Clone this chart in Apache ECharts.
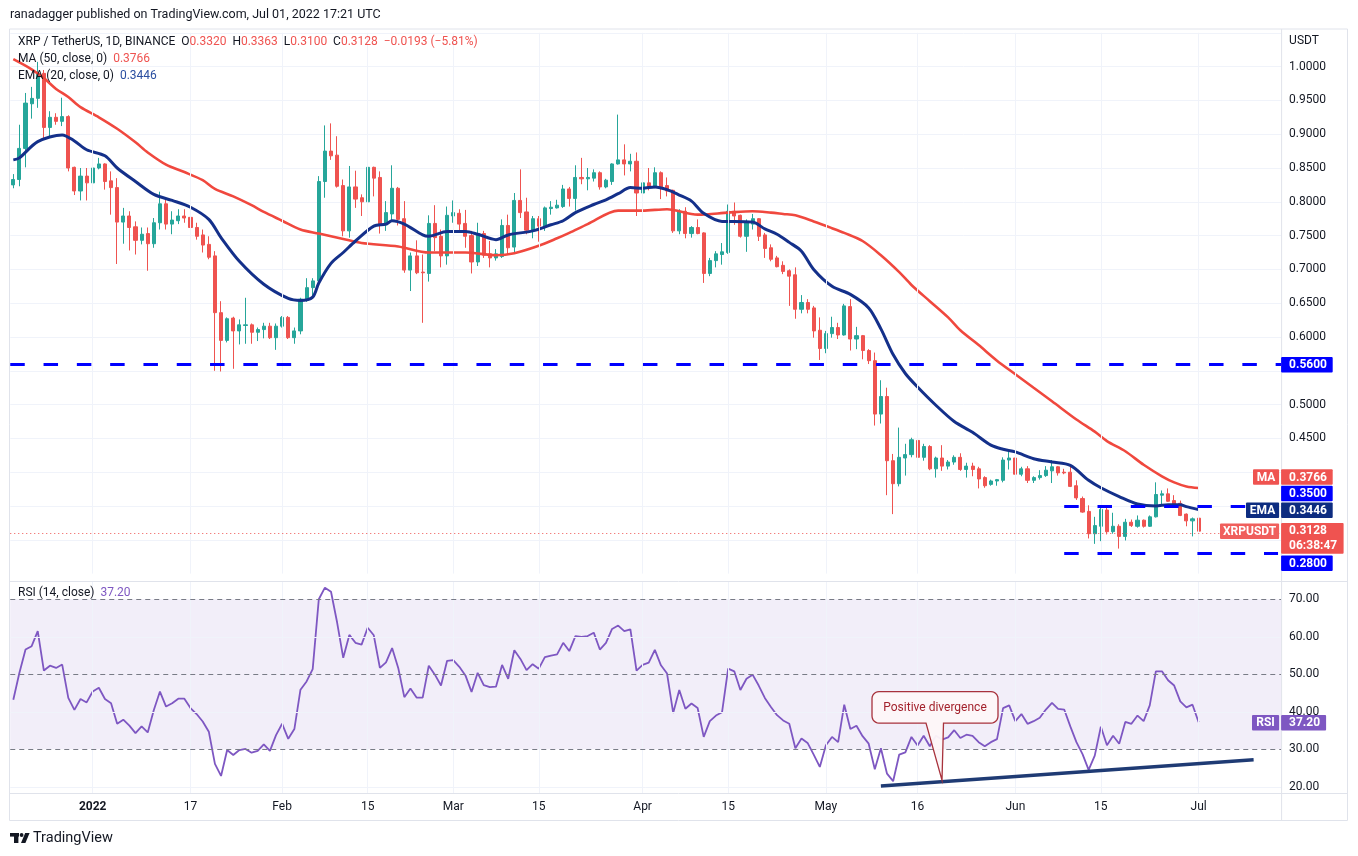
<!DOCTYPE html>
<html><head><meta charset="utf-8">
<script src="https://cdn.jsdelivr.net/npm/echarts@6/dist/echarts.min.js"></script>
<style>html,body{margin:0;padding:0;background:#fff;}#c{width:1358px;height:856px;}</style>
</head><body><div id="c"></div>
<script>
// ---------- data ----------
const startDateUTC = [2021, 11, 19];   // first candle: 2021-12-19
const totalDays = 208;                 // categories incl. empty space on the right
const opens  = [.825,.833,.879,.945,.953,.990,.910,.925,.919,.926,.851,.816,.838,.828,.850,.856,.831,.821,.770,.779,.763,.743,.753,.738,.769,.797,.767,.772,.779,.777,.762,.751,.737,.720,.636,.595,.628,.609,.617,.618,.607,.611,.616,.599,.616,.629,.599,.609,.656,.673,.683,.830,.875,.869,.824,.757,.822,.806,.800,.851,.836,.766,.782,.820,.775,.699,.720,.696,.694,.768,.749,.720,.779,.783,.768,.750,.711,.753,.723,.717,.719,.765,.733,.802,.785,.758,.775,.764,.790,.791,.793,.819,.805,.836,.834,.835,.843,.822,.830,.856,.862,.856,.860,.813,.828,.822,.843,.824,.817,.757,.786,.753,.762,.754,.694,.713,.722,.725,.786,.780,.749,.767,.775,.751,.732,.717,.706,.698,.692,.641,.651,.643,.610,.583,.605,.614,.603,.645,.597,.602,.580,.565,.486,.512,.417,.383,.421,.426,.447,.422,.438,.405,.421,.409,.415,.422,.404,.409,.405,.392,.382,.387,.388,.418,.421,.397,.405,.388,.392,.395,.402,.408,.400,.400,.380,.361,.342,.309,.320,.344,.312,.320,.305,.326,.320,.329,.320,.334,.366,.368,.358,.354,.338,.328,.3320];
const closes = [.833,.879,.946,.953,.990,.910,.925,.919,.926,.850,.816,.838,.828,.850,.856,.830,.821,.770,.779,.762,.743,.752,.738,.769,.797,.767,.773,.779,.776,.762,.749,.736,.718,.636,.595,.627,.609,.618,.618,.607,.611,.616,.599,.616,.629,.599,.609,.656,.673,.683,.830,.875,.868,.823,.757,.822,.804,.800,.851,.835,.766,.784,.820,.774,.699,.720,.695,.695,.768,.747,.720,.780,.784,.767,.749,.711,.753,.721,.717,.723,.765,.732,.802,.784,.758,.775,.764,.791,.792,.795,.819,.805,.836,.834,.836,.843,.822,.832,.856,.862,.856,.860,.813,.828,.822,.843,.822,.816,.757,.786,.753,.762,.753,.694,.713,.723,.726,.786,.779,.749,.770,.775,.749,.731,.715,.704,.697,.690,.641,.651,.641,.609,.583,.605,.614,.603,.646,.597,.602,.580,.565,.486,.512,.417,.383,.422,.426,.448,.422,.438,.405,.421,.409,.415,.422,.404,.409,.404,.390,.380,.387,.389,.418,.421,.397,.405,.388,.392,.395,.403,.408,.399,.399,.379,.362,.341,.309,.321,.345,.312,.320,.305,.326,.321,.329,.320,.334,.367,.368,.357,.352,.336,.328,.331,.3128];
const lows   = [.820,.823,.851,.923,.939,.894,.897,.914,.912,.845,.810,.802,.802,.826,.848,.818,.781,.708,.738,.728,.722,.737,.698,.732,.759,.759,.752,.767,.769,.752,.744,.725,.715,.550,.549,.592,.553,.589,.590,.590,.594,.598,.597,.581,.614,.597,.590,.604,.652,.659,.679,.806,.862,.821,.749,.747,.791,.779,.796,.808,.753,.757,.771,.765,.695,.668,.693,.621,.682,.727,.703,.707,.769,.757,.732,.694,.705,.717,.703,.713,.717,.722,.725,.776,.752,.746,.741,.757,.781,.790,.791,.793,.787,.826,.817,.830,.818,.820,.825,.855,.839,.845,.779,.806,.817,.820,.804,.808,.754,.752,.746,.747,.752,.680,.690,.703,.707,.723,.766,.747,.726,.759,.742,.717,.712,.703,.693,.646,.627,.635,.635,.599,.566,.576,.599,.597,.602,.580,.582,.567,.560,.469,.472,.366,.338,.379,.395,.422,.409,.417,.403,.392,.402,.404,.411,.402,.392,.394,.376,.377,.380,.380,.385,.404,.388,.394,.384,.384,.389,.393,.384,.395,.397,.378,.359,.340,.302,.294,.298,.308,.309,.287,.299,.319,.318,.318,.319,.333,.351,.356,.348,.335,.320,.305,.3100];
const highs  = [.841,.914,.961,.970,1.007,.995,.934,.931,.954,.928,.852,.850,.850,.855,.865,.857,.845,.835,.791,.786,.771,.762,.762,.776,.815,.803,.786,.789,.789,.781,.769,.759,.749,.727,.653,.629,.630,.626,.658,.620,.614,.621,.621,.620,.631,.631,.614,.658,.687,.687,.838,.913,.916,.897,.833,.853,.846,.811,.858,.852,.845,.801,.854,.822,.801,.725,.743,.722,.780,.795,.759,.793,.802,.789,.788,.757,.769,.757,.742,.730,.774,.781,.813,.848,.806,.779,.779,.793,.801,.803,.825,.822,.854,.865,.850,.848,.845,.834,.857,.929,.885,.871,.873,.833,.850,.851,.845,.836,.818,.789,.792,.764,.774,.755,.717,.727,.739,.796,.799,.781,.774,.782,.776,.754,.737,.720,.712,.700,.703,.662,.656,.646,.629,.609,.630,.621,.649,.656,.615,.603,.582,.577,.536,.525,.427,.466,.442,.451,.448,.442,.440,.423,.440,.418,.425,.428,.414,.414,.408,.394,.389,.390,.422,.433,.427,.408,.409,.394,.403,.409,.418,.409,.405,.412,.388,.364,.351,.334,.348,.348,.340,.323,.331,.330,.336,.330,.336,.385,.373,.376,.366,.358,.339,.333,.3363];
const rsi14  = [43.2,50.4,56.6,57.5,61.5,51.0,52.3,51.7,52.6,43.7,40.5,43.4,42.5,45.4,46.4,43.4,42.3,36.8,37.9,36.3,34.3,36.1,34.5,40.5,45.4,41.4,42.3,43.5,43.5,41.0,39.4,37.4,34.7,26.1,22.9,29.8,28.5,29.8,30.1,29.1,29.6,31.3,29.6,33.8,36.8,32.8,35.4,45.9,48.1,51.4,70.0,73.1,72.0,63.8,54.4,60.5,58.4,57.9,62.4,60.4,51.7,53.2,57.0,51.7,43.9,46.2,43.8,43.8,52.3,49.9,47.0,53.6,53.8,52.0,49.7,45.3,50.4,47.1,46.6,46.7,52.5,48.8,56.4,54.1,51.1,52.7,51.5,54.6,55.0,55.3,58.4,56.2,60.2,60.0,60.2,61.1,56.6,58.4,62.1,63.0,61.5,62.0,51.0,52.5,53.1,56.5,52.4,50.2,39.7,45.8,40.8,42.2,41.0,33.3,37.5,39.0,39.9,51.5,50.8,45.8,48.8,49.9,47.0,43.7,41.3,39.1,37.7,36.8,30.3,32.9,31.7,28.6,25.3,31.1,33.3,31.9,41.9,35.4,36.3,33.5,31.5,24.7,30.3,23.5,21.5,28.6,29.2,33.3,31.0,33.6,30.8,33.6,32.6,33.2,35.1,33.0,33.9,33.6,31.9,30.8,31.9,32.7,41.0,41.7,37.5,39.4,36.8,37.5,38.4,40.6,42.4,40.8,40.6,36.1,31.9,28.7,24.5,28.3,36.0,31.1,33.6,31.5,37.3,36.8,39.0,37.5,41.7,50.8,50.8,48.4,47.0,42.8,41.2,41.9,37.2];
const ma50   = [[0,1.011],[3,0.996],[5,0.983],[7,0.967],[9,0.955],[11,0.940],[14,0.925],[17,0.908],[20,0.888],[22,0.873],[25,0.855],[28,0.844],[31,0.832],[33,0.819],[36,0.808],[39,0.795],[41,0.785],[44,0.772],[47,0.759],[50,0.753],[54,0.745],[57,0.739],[63,0.734],[68,0.725],[74,0.725],[79,0.721],[82,0.724],[86,0.735],[89,0.746],[91,0.754],[94,0.767],[99,0.787],[103,0.787],[107,0.789],[112,0.781],[117,0.784],[121,0.786],[124,0.784],[126,0.782],[128,0.780],[131,0.771],[134,0.761],[136,0.754],[139,0.742],[142,0.721],[145,0.696],[147,0.677],[150,0.653],[153,0.629],[155,0.610],[158,0.588],[161,0.565],[164,0.545],[167,0.525],[170,0.505],[174,0.478],[177,0.460],[179,0.446],[182,0.431],[185,0.411],[188,0.394],[190,0.385],[192,0.379],[194,0.3766]];
const ema20  = [[0,0.862],[1,0.865],[4,0.889],[8,0.899],[10,0.890],[12,0.877],[15,0.868],[17,0.850],[20,0.830],[23,0.811],[26,0.802],[29,0.792],[32,0.774],[34,0.747],[37,0.712],[41,0.678],[45,0.657],[47,0.654],[49,0.659],[50,0.680],[52,0.709],[54,0.725],[56,0.742],[59,0.764],[61,0.767],[62,0.772],[64,0.767],[67,0.751],[68,0.749],[71,0.756],[74,0.756],[76,0.752],[79,0.744],[81,0.751],[85,0.757],[88,0.766],[90,0.772],[92,0.784],[95,0.796],[97,0.803],[99,0.812],[101,0.821],[103,0.820],[105,0.822],[107,0.818],[109,0.810],[111,0.801],[113,0.783],[116,0.771],[118,0.771],[121,0.770],[123,0.760],[125,0.752],[127,0.740],[129,0.727],[131,0.700],[134,0.675],[137,0.663],[140,0.643],[142,0.612],[144,0.574],[146,0.546],[148,0.526],[151,0.499],[154,0.475],[157,0.459],[160,0.440],[162,0.434],[164,0.430],[167,0.420],[170,0.415],[173,0.410],[176,0.388],[178,0.377],[181,0.364],[184,0.353],[187,0.350],[189,0.352],[191,0.352],[192,0.349],[194,0.3446]];
const tickDates  = ['2022-01-01','2022-01-17','2022-02-01','2022-02-15','2022-03-01','2022-03-15','2022-04-01','2022-04-15','2022-05-01','2022-05-16','2022-06-01','2022-06-15','2022-07-01'];
const tickLabels = ['2022','17','Feb','15','Mar','15','Apr','15','May','16','Jun','15','Jul'];
const hiddenPriceLabels = [0.25, 0.30, 0.35, 0.40, 0.55, 1.05];
const rsiTicks   = [20, 30, 40, 50, 60, 70];
const rsiSolid   = [20, 40, 60];
const rsiDashed  = [30, 50, 70];
const levelFull  = 0.56;
const levelsPartial = [0.35, 0.28];
const levelStartIdx = 172;
const lastPrice  = 0.3128;
const lastMA = 0.3766, lastEMA = 0.3446, lastRSI = 37.20;
const trendLine  = [[142, 20.2], [203, 27.2]];
const calloutTip = [152, 21.8];
const calloutText = 'Positive divergence';

// ---------- build ----------
const dates = [];
const t0 = Date.UTC(startDateUTC[0], startDateUTC[1], startDateUTC[2]);
for (let i = 0; i < totalDays; i++) dates.push(new Date(t0 + i * 86400000).toISOString().slice(0, 10));
const candles = opens.map((o, i) => [o, closes[i], lows[i], highs[i]]);

const FONT = 'Roboto, "Noto Sans", Arial, sans-serif';
const UP = '#26a69a', DOWN = '#ef5350', MA_C = '#f0483e', EMA_C = '#14308a', RSI_C = '#7e57c2', LVL = '#0000ff';
const TXT = '#131722', GRIDC = '#f0f3fa';
const GRID_L = 10.25, GRID_R = 76.9;
const W = 1358;

const chart = echarts.init(document.getElementById('c'), null, {renderer: 'canvas', width: 1358, height: 856});

const splitColors = [];
for (let i = 0; i <= 16; i++) splitColors.push(i === 0 ? 'rgba(0,0,0,0)' : GRIDC);

const tStyle = (extra) => Object.assign({fontFamily: FONT, fontSize: 12, fontWeight: 'normal', color: TXT, lineHeight: 14}, extra || {});

const option = {
  animation: false,
  backgroundColor: '#ffffff',
  textStyle: {fontFamily: FONT},
  title: [
    {text: 'ranadagger published on TradingView.com, Jul 01, 2022 17:21 UTC', left: 10, top: 8, padding: 0, textStyle: tStyle({fontSize: 12.5})},
    {text: 'XRP / TetherUS, 1D, BINANCE  O{r|0.3320}  H{r|0.3363}  L{r|0.3100}  C{r|0.3128}  {r|\u22120.0193 (\u22125.81%)}', left: 18, top: 35, padding: 0,
      textStyle: tStyle({rich: {r: {color: DOWN, fontFamily: FONT, fontSize: 12, lineHeight: 14}}})},
    {text: 'MA (50, close, 0)  {r|' + lastMA.toFixed(4) + '}', left: 18, top: 52, padding: 0,
      textStyle: tStyle({rich: {r: {color: DOWN, fontFamily: FONT, fontSize: 12, lineHeight: 14}}})},
    {text: 'EMA (20, close, 0)  {b|' + lastEMA.toFixed(4) + '}', left: 18, top: 69, padding: 0,
      textStyle: tStyle({rich: {b: {color: '#2a4ea0', fontFamily: FONT, fontSize: 12, lineHeight: 14}}})},
    {text: 'RSI (14, close)  {p|' + lastRSI.toFixed(2) + '}', left: 18, top: 586, padding: 0,
      textStyle: tStyle({rich: {p: {color: RSI_C, fontFamily: FONT, fontSize: 12, lineHeight: 14}}})}
  ],
  grid: [
    {left: GRID_L, right: GRID_R, top: 32.8, height: 540.8},
    {left: GRID_L, right: GRID_R, top: 582, height: 211}
  ],
  xAxis: [
    {type: 'category', gridIndex: 0, data: dates, boundaryGap: true, axisLine: {show: false}, axisTick: {show: false}, axisLabel: {show: false}, splitLine: {show: false}},
    {type: 'category', gridIndex: 1, data: dates, boundaryGap: true, axisLine: {show: false}, axisTick: {show: false}, splitLine: {show: false},
      axisLabel: {
        interval: (i, v) => tickDates.indexOf(v) >= 0,
        formatter: (v) => { const k = tickDates.indexOf(v); if (k < 0) return ''; return k === 0 ? '{y|' + tickLabels[k] + '}' : tickLabels[k]; },
        margin: 8, color: TXT, fontSize: 12, fontFamily: FONT,
        rich: {y: {fontWeight: 'bold', fontSize: 12, fontFamily: FONT, color: TXT}}
      }}
  ],
  yAxis: [
    {type: 'value', gridIndex: 0, position: 'right', min: 0.25, max: 1.05, interval: 0.05, scale: false,
      axisLine: {show: false}, axisTick: {show: false},
      splitLine: {show: true, lineStyle: {color: splitColors, width: 1}},
      axisLabel: {margin: 8, color: TXT, fontSize: 12, fontFamily: FONT,
        formatter: (v) => hiddenPriceLabels.some(h => Math.abs(h - v) < 1e-6) ? '' : v.toFixed(4)}},
    {type: 'value', gridIndex: 1, position: 'right', min: 18.35, max: 74.61,
      axisLine: {show: false}, axisTick: {show: false}, splitLine: {show: false},
      axisLabel: {customValues: rsiTicks, margin: 8, color: TXT, fontSize: 12, fontFamily: FONT, formatter: (v) => Number(v).toFixed(2)}}
  ],
  series: [
    {name: 'vgrid0', type: 'line', xAxisIndex: 0, yAxisIndex: 0, data: [], z: 1, silent: true,
      markLine: {silent: true, symbol: ['none', 'none'], label: {show: false}, lineStyle: {color: GRIDC, width: 1, type: 'solid'},
        data: tickDates.map(d => ({xAxis: d}))}},
    {name: 'vgrid1', type: 'line', xAxisIndex: 1, yAxisIndex: 1, data: [], z: 1, silent: true,
      markArea: {silent: true, itemStyle: {color: 'rgba(126,87,194,0.10)'}, data: [[{yAxis: 30}, {yAxis: 70}]]},
      markLine: {silent: true, symbol: ['none', 'none'], label: {show: false},
        data: tickDates.map(d => ({xAxis: d, lineStyle: {color: GRIDC, width: 1, type: 'solid'}}))
          .concat(rsiSolid.map(v => ({yAxis: v, lineStyle: {color: GRIDC, width: 1, type: 'solid'}})))
          .concat(rsiDashed.map(v => ({yAxis: v, lineStyle: {color: '#787b86', width: 1, type: [5, 4]}})))}},
    {name: 'XRPUSDT', type: 'candlestick', xAxisIndex: 0, yAxisIndex: 0, data: candles, z: 2, barWidth: 3.6,
      itemStyle: {color: UP, color0: DOWN, borderColor: UP, borderColor0: DOWN, borderWidth: 1}},
    {name: 'MA50', type: 'line', xAxisIndex: 0, yAxisIndex: 0, data: ma50, z: 3, showSymbol: false, smooth: 0.3, silent: true,
      lineStyle: {color: MA_C, width: 2.6}},
    {name: 'EMA20', type: 'line', xAxisIndex: 0, yAxisIndex: 0, data: ema20, z: 3, showSymbol: false, smooth: 0.3, silent: true,
      lineStyle: {color: EMA_C, width: 3}},
    {name: 'levels', type: 'line', xAxisIndex: 0, yAxisIndex: 0, data: [], z: 4, silent: true,
      markLine: {silent: true, symbol: ['none', 'none'], label: {show: false},
        data: [
          {yAxis: levelFull, lineStyle: {color: LVL, width: 3, type: [14.5, 18.8]}},
          {yAxis: lastPrice, lineStyle: {color: DOWN, width: 1, type: [1, 3]}}
        ].concat(levelsPartial.map(v => [
          {coord: [dates[levelStartIdx], v], lineStyle: {color: LVL, width: 3, type: [14.5, 18.8]}},
          {coord: [dates[totalDays - 1], v]}
        ]))}},
    {name: 'RSI', type: 'line', xAxisIndex: 1, yAxisIndex: 1, data: rsi14, z: 3, showSymbol: false, silent: true,
      lineStyle: {color: RSI_C, width: 1.8},
      markLine: {silent: true, symbol: ['none', 'none'], label: {show: false},
        data: [[{coord: [dates[trendLine[0][0]], trendLine[0][1]], lineStyle: {color: '#1f3b74', width: 3.5, type: 'solid'}},
                {coord: [dates[trendLine[1][0]], trendLine[1][1]]}]]}}
  ]
};
chart.setOption(option);

// ---------- overlays positioned through the chart's own scales ----------
const py = v => chart.convertToPixel({yAxisIndex: 0}, v);
const ry = v => chart.convertToPixel({yAxisIndex: 1}, v);
const AX = W - GRID_R;
const els = [];
function rect(x, y, w, h, fill, r) { els.push({type: 'rect', silent: true, z: 100, shape: {x, y, width: w, height: h, r: r || 0}, style: {fill}}); }
function text(s, x, y, opt) {
  opt = opt || {};
  els.push({type: 'text', silent: true, z: 101, style: {text: s, x, y, fill: opt.fill || '#fff', fontSize: opt.size || 12, fontFamily: FONT,
    fontWeight: opt.weight || 'bold', align: opt.align || 'left', verticalAlign: 'middle'}});
}
function line(x1, y1, x2, y2, c) { els.push({type: 'line', silent: true, z: 99, shape: {x1, y1, x2, y2}, style: {stroke: c || '#e0e3eb', lineWidth: 1}}); }
const TH = 15.5;
function rightTag(yc, fill, s, w) { rect(AX, yc - TH / 2, w || 51.6, TH, fill, 1); text(s, AX + 8, yc + 0.5); }
function leftTag(yc, fill, s, x0) { rect(x0, yc - TH / 2, AX - 2 - x0, TH, fill, 1); text(s, (x0 + AX - 2) / 2, yc + 0.5, {align: 'center'}); }

// frame
line(9.5, 29, 1347.5, 29); line(9.5, 820.5, 1347.5, 820.5);
line(9.5, 29, 9.5, 820.5); line(1347.5, 29, 1347.5, 820.5);
line(AX + 0.5, 29, AX + 0.5, 820.5);
line(9.5, 581.5, 1347.5, 581.5); line(9.5, 793.5, 1347.5, 793.5);
text('USDT', AX + 8, 40.5, {fill: TXT, weight: 'normal'});

// price tags
rightTag(py(levelFull) + 0.8, LVL, levelFull.toFixed(4));
const yMA = py(lastMA) - 11, y35 = py(levelsPartial[0]) - 12.5, yEMA = py(lastEMA) + 0.7, yLP = py(lastPrice), y28 = py(levelsPartial[1]) + 10;
rightTag(yMA, DOWN, lastMA.toFixed(4)); leftTag(yMA, DOWN, 'MA', 1253);
rightTag(y35, LVL, levelsPartial[0].toFixed(4));
rightTag(yEMA, '#0d2c80', lastEMA.toFixed(4)); leftTag(yEMA, '#0d2c80', 'EMA', 1246);
rect(AX, yLP - 8.2, 62.5, 30.7, '#ef5350', 1); text(lastPrice.toFixed(4), AX + 8, yLP - 0.3); text('06:38:47', AX + 8, yLP + 14.6);
leftTag(yLP, '#f05f5c', 'XRPUSDT', 1220);
rightTag(y28, LVL, levelsPartial[1].toFixed(4));
// RSI tags
const yR = ry(lastRSI) + 0.5;
rightTag(yR, RSI_C, lastRSI.toFixed(2), 45); leftTag(yR, RSI_C, 'RSI', 1252);

// callout (rounded box with a pointer down to the trend line)
const tip = chart.convertToPixel({gridIndex: 1}, [calloutTip[0], calloutTip[1]]);
const tx = tip[0], ty = tip[1];
const L = tx - 70, R = tx + 56, T = ty - 88.5, B = ty - 57, rr = 7, b1 = tx - 16, b2 = tx + 1.5;
const pts = [];
function arc(cx, cy, a0, a1) { for (let k = 0; k <= 6; k++) { const a = (a0 + (a1 - a0) * k / 6) * Math.PI / 180; pts.push([cx + rr * Math.cos(a), cy + rr * Math.sin(a)]); } }
arc(L + rr, T + rr, 180, 270);
arc(R - rr, T + rr, 270, 360);
arc(R - rr, B - rr, 0, 90);
pts.push([b2, B], [tx, ty], [b1, B]);
arc(L + rr, B - rr, 90, 180);
els.push({type: 'polygon', silent: true, z: 100, shape: {points: pts}, style: {fill: 'rgba(253,246,248,0.96)', stroke: '#a8323c', lineWidth: 1.3}});
text(calloutText, (L + R) / 2, (T + B) / 2 + 0.5, {fill: '#a3222c', weight: 'normal', align: 'center'});

// TradingView logo
rect(10, 833, 9, 3.6, TXT); rect(14, 833, 4.4, 10, TXT);
els.push({type: 'circle', silent: true, z: 100, shape: {cx: 21.6, cy: 835, r: 1.9}, style: {fill: TXT}});
els.push({type: 'polygon', silent: true, z: 100, shape: {points: [[25.2, 833], [29.6, 833], [25.4, 843], [21, 843]]}, style: {fill: TXT}});
text('TradingView', 33, 838.5, {fill: TXT, weight: 'normal', size: 14.5});

chart.setOption({graphic: {elements: els}});
</script>
</body></html>
